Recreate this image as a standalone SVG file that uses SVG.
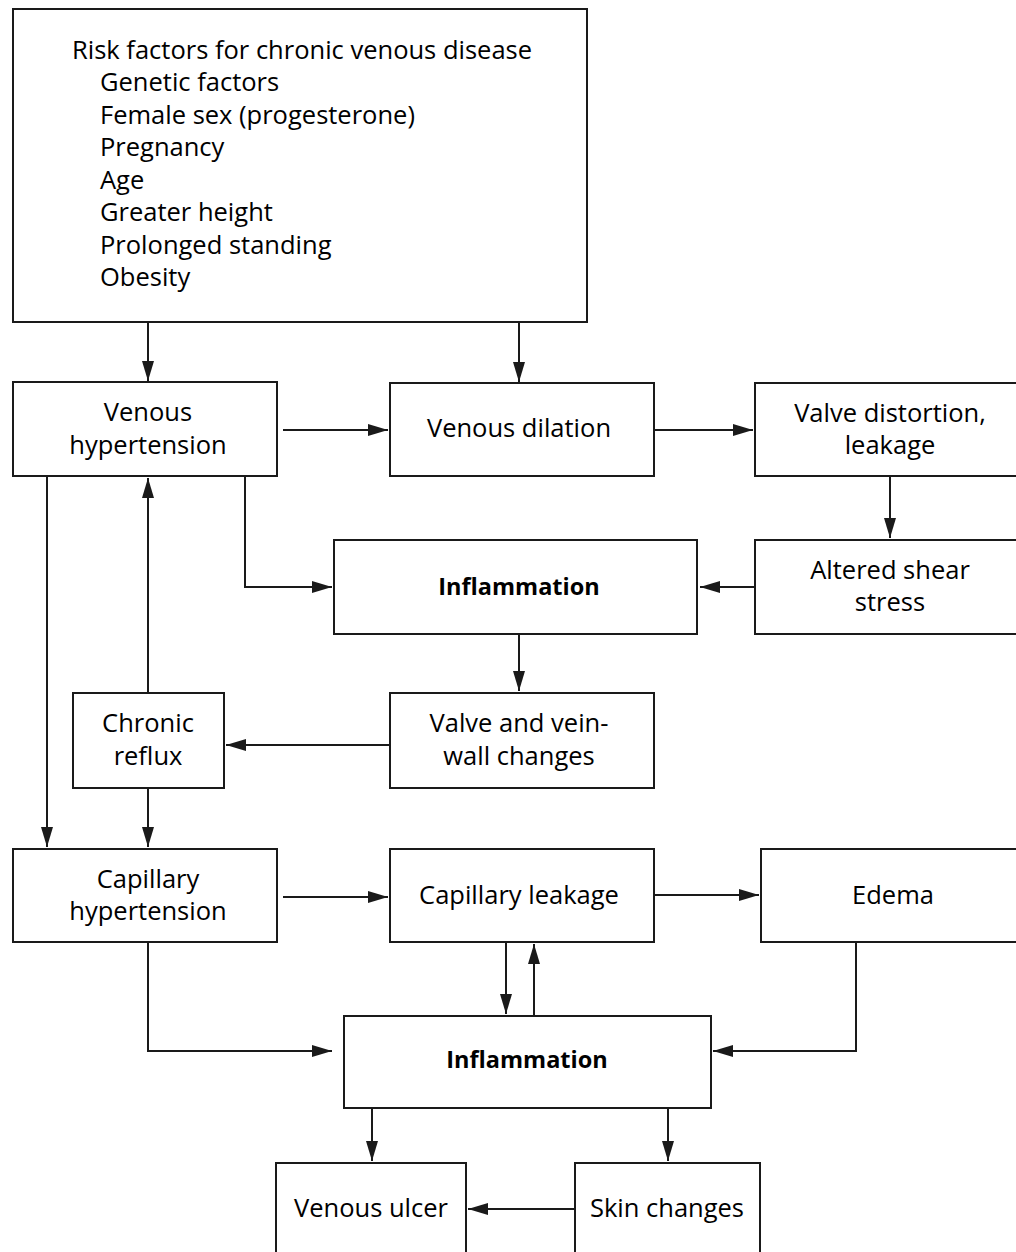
<svg xmlns="http://www.w3.org/2000/svg" width="1016" height="1252" viewBox="0 0 1016 1252">
<style>
.box{fill:#fff;stroke:#1a1a1a;stroke-width:2}
.t{font-family:"Open Sans","Noto Sans",sans-serif;font-size:25.5px;fill:#000;text-anchor:middle}
.tl{font-family:"Open Sans","Noto Sans",sans-serif;font-size:25.5px;fill:#000}
.b{font-weight:bold;font-size:23.5px}
.c{fill:none;stroke:#1a1a1a;stroke-width:2}
</style>
<defs>
<marker id="ah" markerWidth="20" markerHeight="12" refX="20" refY="6" orient="auto" markerUnits="userSpaceOnUse">
<path d="M0,0 L20,6 L0,12 Z" fill="#1a1a1a"/>
</marker>
</defs>
<rect width="1016" height="1252" fill="#fff"/>
<g id="risk">
<rect class="box" x="13" y="9" width="574" height="313"/>
<text class="tl" x="72" y="59">Risk factors for chronic venous disease</text>
<text class="tl" x="100" y="91">Genetic factors</text>
<text class="tl" x="100" y="124">Female sex (progesterone)</text>
<text class="tl" x="100" y="156">Pregnancy</text>
<text class="tl" x="100" y="189">Age</text>
<text class="tl" x="100" y="221">Greater height</text>
<text class="tl" x="100" y="254">Prolonged standing</text>
<text class="tl" x="100" y="286">Obesity</text>
</g>
<g id="venous-hypertension">
<rect class="box" x="13" y="382" width="264" height="94"/>
<text class="t" x="148" y="421">Venous</text>
<text class="t" x="148" y="454">hypertension</text>
</g>
<g id="venous-dilation">
<rect class="box" x="390" y="383" width="264" height="93"/>
<text class="t" x="519" y="437">Venous dilation</text>
</g>
<g id="valve-distortion">
<rect class="box" x="755" y="383" width="270" height="93"/>
<text class="t" x="890" y="422">Valve distortion,</text>
<text class="t" x="890" y="454">leakage</text>
</g>
<g id="inflammation-1">
<rect class="box" x="334" y="540" width="363" height="94"/>
<text class="t b" x="519" y="595">Inflammation</text>
</g>
<g id="altered-shear">
<rect class="box" x="755" y="540" width="270" height="94"/>
<text class="t" x="890" y="579">Altered shear</text>
<text class="t" x="890" y="611">stress</text>
</g>
<g id="valve-vein-wall">
<rect class="box" x="390" y="693" width="264" height="95"/>
<text class="t" x="519" y="732">Valve and vein-</text>
<text class="t" x="519" y="765">wall changes</text>
</g>
<g id="chronic-reflux">
<rect class="box" x="73" y="693" width="151" height="95"/>
<text class="t" x="148" y="732">Chronic</text>
<text class="t" x="148" y="765">reflux</text>
</g>
<g id="capillary-hypertension">
<rect class="box" x="13" y="849" width="264" height="93"/>
<text class="t" x="148" y="888">Capillary</text>
<text class="t" x="148" y="920">hypertension</text>
</g>
<g id="capillary-leakage">
<rect class="box" x="390" y="849" width="264" height="93"/>
<text class="t" x="519" y="904">Capillary leakage</text>
</g>
<g id="edema">
<rect class="box" x="761" y="849" width="264" height="93"/>
<text class="t" x="893" y="904">Edema</text>
</g>
<g id="inflammation-2">
<rect class="box" x="344" y="1016" width="367" height="92"/>
<text class="t b" x="527" y="1068">Inflammation</text>
</g>
<g id="venous-ulcer">
<rect class="box" x="276" y="1163" width="190" height="100"/>
<text class="t" x="371" y="1217">Venous ulcer</text>
</g>
<g id="skin-changes">
<rect class="box" x="575" y="1163" width="185" height="100"/>
<text class="t" x="667" y="1217">Skin changes</text>
</g>
<g id="connectors">
<path class="c" d="M148,322 V381" marker-end="url(#ah)"/>
<path class="c" d="M519,322 V382" marker-end="url(#ah)"/>
<path class="c" d="M283,430 H388" marker-end="url(#ah)"/>
<path class="c" d="M654,430 H753" marker-end="url(#ah)"/>
<path class="c" d="M890,476 V538" marker-end="url(#ah)"/>
<path class="c" d="M755,587 H700" marker-end="url(#ah)"/>
<path class="c" d="M245,476 V587 H332" marker-end="url(#ah)"/>
<path class="c" d="M519,634 V691" marker-end="url(#ah)"/>
<path class="c" d="M390,745 H226" marker-end="url(#ah)"/>
<path class="c" d="M148,693 V478" marker-end="url(#ah)"/>
<path class="c" d="M148,788 V847" marker-end="url(#ah)"/>
<path class="c" d="M47,476 V847" marker-end="url(#ah)"/>
<path class="c" d="M283,897 H388" marker-end="url(#ah)"/>
<path class="c" d="M654,895 H759" marker-end="url(#ah)"/>
<path class="c" d="M506,942 V1014" marker-end="url(#ah)"/>
<path class="c" d="M534,1016 V944" marker-end="url(#ah)"/>
<path class="c" d="M148,942 V1051 H332" marker-end="url(#ah)"/>
<path class="c" d="M856,942 V1051 H713" marker-end="url(#ah)"/>
<path class="c" d="M372,1108 V1161" marker-end="url(#ah)"/>
<path class="c" d="M668,1108 V1161" marker-end="url(#ah)"/>
<path class="c" d="M575,1209 H468" marker-end="url(#ah)"/>
</g>
</svg>
